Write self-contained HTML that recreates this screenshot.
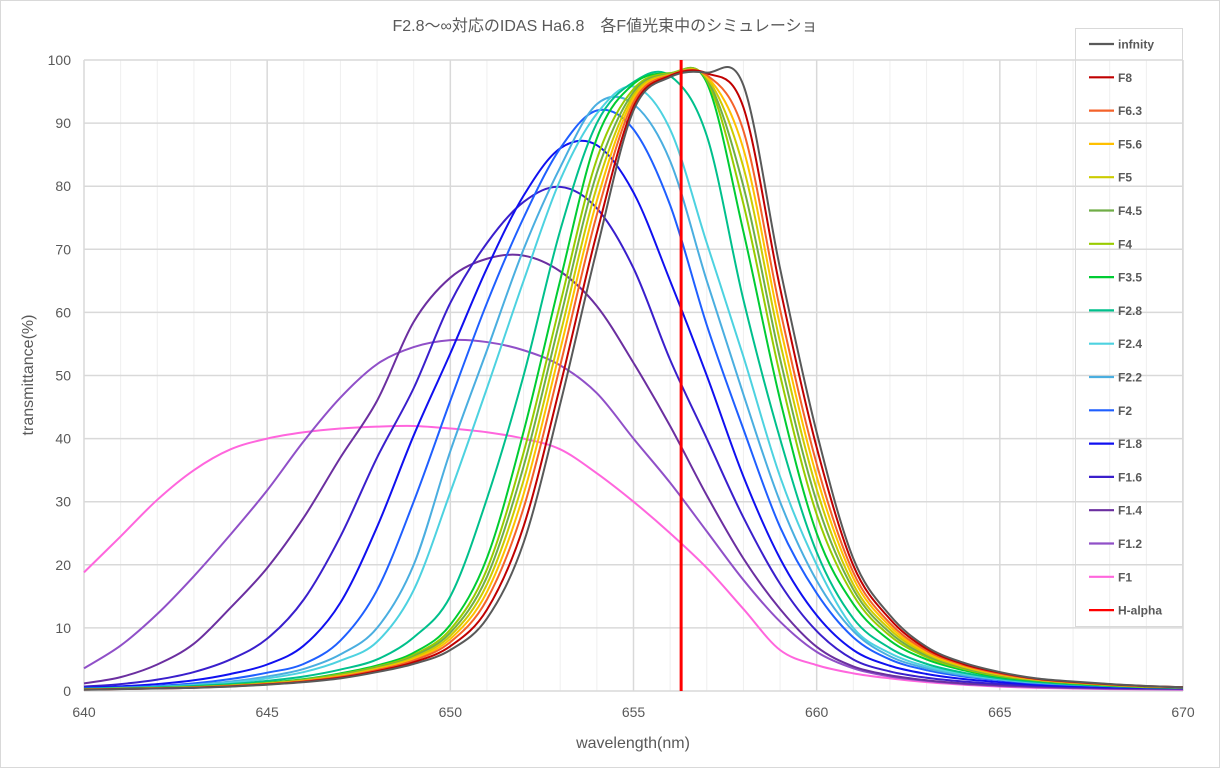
<!DOCTYPE html>
<html><head><meta charset="utf-8"><style>
html,body{margin:0;padding:0;background:#fff;}
svg{display:block;font-family:"Liberation Sans","Noto Sans CJK JP",sans-serif;}
</style></head><body>
<svg id="chart" width="1220" height="768" viewBox="0 0 1220 768" xmlns="http://www.w3.org/2000/svg">
<rect x="0.5" y="0.5" width="1219" height="767" fill="#fff" stroke="#d9d9d9"/>
<text x="605" y="31" text-anchor="middle" font-size="16" fill="#595959">F2.8～∞対応のIDAS Ha6.8　各F値光束中のシミュレーショ</text>
<g id="grid"></g>
<g id="axes"></g>
<g id="series"></g>
<g id="legend"></g>
<text x="633" y="748" text-anchor="middle" font-size="16" fill="#595959">wavelength(nm)</text>
<text x="0" y="0" transform="translate(33,375) rotate(-90)" text-anchor="middle" font-size="16" fill="#595959">transmittance(%)</text>
</svg>
<script>
const wavelengths = [640,641,642,643,644,645,646,647,648,649,650,651,652,653,654,655,656,657,658,659,660,661,662,663,664,665,666,667,668,669,670];
const seriesNames = ["infnity","F8","F6.3","F5.6","F5","F4.5","F4","F3.5","F2.8","F2.4","F2.2","F2","F1.8","F1.6","F1.4","F1.2","F1","H-alpha"];
const seriesColors = ["#595959","#c00000","#f4622a","#ffc000","#cccc00","#70ad47","#99cc00","#00cc33","#00c08c","#4dd2e0","#4aaee0","#1f5fff","#1010f0","#3a1fcc","#6b2fa0","#9050c8","#ff66dd","#ff0000"];
const sInf  = [0.2,0.3,0.4,0.5,0.7,1.0,1.4,2.0,3.0,4.3,6.5,11.5,23.5,45.5,70,92,97.3,98,96,67,41,21,12,7,4.5,3,2,1.5,1.1,0.8,0.6];
const sF8   = [0.21,0.31,0.41,0.52,0.74,1.05,1.47,2.12,3.16,4.56,7.1,12.9,26.1,48.4,72.6,92.6,97.5,97.9,92.5,63.9,38.6,19.9,11.4,6.7,4.3,2.9,1.94,1.45,1.06,0.78,0.6];
const sF63  = [0.23,0.33,0.43,0.55,0.78,1.1,1.55,2.25,3.33,4.85,7.75,14.5,29,51.6,75.5,93.3,97.6,97.6,88.8,60.5,36,18.8,10.75,6.4,4.13,2.75,1.88,1.4,1.03,0.75,0.6];
const sF56  = [0.24,0.34,0.44,0.57,0.81,1.14,1.61,2.35,3.46,5.07,8.25,15.7,31.2,54.1,77.7,93.9,97.6,97.4,85.9,57.9,34,17.9,10.25,6.13,3.98,2.65,1.83,1.36,1.0,0.73,0.6];
const sF5   = [0.25,0.35,0.45,0.59,0.84,1.18,1.67,2.45,3.59,5.29,8.75,16.9,33.4,56.5,79.9,94.4,97.7,97.2,83,55.3,32,16.9,9.75,5.88,3.83,2.55,1.78,1.32,0.97,0.71,0.6];
const sF45  = [0.26,0.36,0.46,0.61,0.87,1.22,1.73,2.55,3.72,5.51,9.25,18.1,35.6,59,82.1,94.9,97.8,97,80,52.7,30,16.1,9.25,5.63,3.68,2.45,1.73,1.28,0.94,0.69,0.6];
const sF4   = [0.27,0.37,0.47,0.63,0.9,1.26,1.79,2.65,3.85,5.73,9.75,19.3,37.8,61.4,84.3,95.4,97.9,96.8,77.2,50.1,28,15.2,8.75,5.38,3.53,2.35,1.68,1.24,0.91,0.67,0.58];
const sF35  = [0.28,0.38,0.48,0.66,0.94,1.32,1.88,2.8,4.04,6.06,10.5,21.1,41.1,65.1,87.6,96.2,97.9,96.4,72.8,46.2,25,13.8,8,5,3.3,2.2,1.6,1.18,0.86,0.64,0.55];
const sF28  = [0.35,0.45,0.6,0.8,1.1,1.6,2.3,3.4,5,8.5,15,30.5,50,73,90,96.5,97.5,88,62,40,22,11.5,6.8,4.3,2.9,2,1.45,1.05,0.8,0.6,0.5];
const sF24  = [0.3,0.45,0.65,0.9,1.3,2,3,4.8,7.8,16,31.5,48,65,81,91.5,95.8,89,71,53,34,20,10,6,3.9,2.7,1.9,1.4,1.05,0.8,0.65,0.55];
const sF22  = [0.35,0.5,0.7,1,1.5,2.3,3.5,5.8,10,20,38,54,70,83,93,93,84,65,47,30,17.5,9.5,5.5,3.6,2.5,1.8,1.3,1,0.8,0.65,0.55];
const sF2   = [0.4,0.55,0.8,1.2,1.9,2.9,4.3,8,16,30,46,61.5,75,86,92,89,77,58,41.5,26,15.5,8.5,5,3.3,2.3,1.7,1.2,0.95,0.75,0.6,0.55];
const sF18  = [0.5,0.75,1.1,1.7,2.7,4.2,7.2,14,26,40.5,53.5,67,78.5,86,86.5,79,65,50,34,21,12,6.5,4,2.7,1.9,1.4,1.0,0.8,0.65,0.55,0.5];
const sF16  = [0.7,1.1,1.8,3,5,8.3,14.5,24.5,37,48,61.5,71,77.5,79.9,76.5,67,52.5,40,27.5,17,9.5,5,3.1,2.1,1.5,1.1,0.85,0.65,0.5,0.45,0.4];
const sF14  = [1.2,2.2,4.2,7.5,13.2,19.5,27.5,37,46,58.5,65.5,68.5,69,66.5,61,52,42,31,21,13,7,3.9,2.5,1.7,1.2,0.9,0.7,0.55,0.45,0.4,0.35];
const sF12  = [3.6,7.2,12.2,18.2,24.8,31.8,39.6,46.5,51.8,54.5,55.6,55.3,54,51.6,47.2,40,33,25.3,17.6,11,6.2,3.6,2.3,1.6,1.1,0.8,0.6,0.45,0.35,0.3,0.25];
const sF1   = [18.8,24.5,30.3,35,38.3,40,41,41.6,41.9,42,41.6,41,40,38.3,34.5,30,25,19.5,13,6.5,4.1,2.8,2,1.4,1,0.7,0.5,0.4,0.3,0.25,0.2];
const halphaX = [656.3,656.3];
const halphaY = [0,100];
const xTicks = [640,645,650,655,660,665,670];
const yTicks = [0,10,20,30,40,50,60,70,80,90,100];
const xMinor = [641,642,643,644,646,647,648,649,651,652,653,654,656,657,658,659,661,662,663,664,666,667,668,669];

const allSeries = [sInf,sF8,sF63,sF56,sF5,sF45,sF4,sF35,sF28,sF24,sF22,sF2,sF18,sF16,sF14,sF12,sF1];

const X0=84,X1=1183,Y0=691,Y1=60;
function xs(v){return X0+(v-640)/30*(X1-X0);}
function ys(v){return Y0-v/100*(Y0-Y1);}
const NS="http://www.w3.org/2000/svg";
function mk(tag,attrs,parent){const e=document.createElementNS(NS,tag);for(const k in attrs)e.setAttribute(k,attrs[k]);parent.appendChild(e);return e;}

const grid=document.getElementById('grid');
xMinor.forEach(v=>{const l=mk('line',{x1:xs(v),x2:xs(v),y1:Y1,y2:Y0,stroke:'#efefef','stroke-width':1},grid);

});
yTicks.forEach(v=>{const l=mk('line',{x1:X0,x2:X1,y1:ys(v),y2:ys(v),stroke:'#d9d9d9','stroke-width':1.5},grid);

});
xTicks.forEach(v=>{const l=mk('line',{x1:xs(v),x2:xs(v),y1:Y1,y2:Y0,stroke:'#d9d9d9','stroke-width':1.5},grid);

});

const axes=document.getElementById('axes');
yTicks.forEach(v=>{const t=mk('text',{x:71,y:ys(v)+5,'text-anchor':'end','font-size':14,fill:'#595959'},axes);t.textContent=v;

});
xTicks.forEach(v=>{const t=mk('text',{x:xs(v),y:717,'text-anchor':'middle','font-size':14,fill:'#595959'},axes);t.textContent=v;

});

function pathFor(xv,yv){
  const p=xv.map((x,i)=>[xs(x),ys(yv[i])]);
  let d='M'+p[0][0].toFixed(2)+','+p[0][1].toFixed(2);
  for(let i=0;i<p.length-1;i++){
    const a=p[Math.max(0,i-1)],b=p[i],c=p[i+1],e=p[Math.min(p.length-1,i+2)];
    const c1=[b[0]+(c[0]-a[0])/6,b[1]+(c[1]-a[1])/6];
    const c2=[c[0]-(e[0]-b[0])/6,c[1]-(e[1]-b[1])/6];
    d+='C'+c1[0].toFixed(2)+','+c1[1].toFixed(2)+' '+c2[0].toFixed(2)+','+c2[1].toFixed(2)+' '+c[0].toFixed(2)+','+c[1].toFixed(2);
  }
  return d;
}
const sg=document.getElementById('series');
for(let i=allSeries.length-1;i>=0;i--){
  const el=mk('path',{d:pathFor(wavelengths,allSeries[i]),fill:'none',stroke:seriesColors[i],'stroke-width':2},sg);
  
  
}
const ha=mk('line',{x1:xs(halphaX[0]),x2:xs(halphaX[1]),y1:ys(halphaY[0]),y2:ys(halphaY[1]),stroke:'#ff0000','stroke-width':3},sg);



const lg=document.getElementById('legend');
const box=mk('rect',{x:1075.5,y:28.5,width:107,height:598,fill:'none',stroke:'#d9d9d9','stroke-width':1},lg);


seriesNames.forEach((n,i)=>{
  const y=44+i*33.3;
  const g=mk('g',{},lg);
  
  
  mk('line',{x1:1089,x2:1114,y1:y,y2:y,stroke:seriesColors[i],'stroke-width':2.2},g);
  const t=mk('text',{x:1118,y:y+4.5,'font-size':12,'font-weight':'bold',fill:'#595959'},g);
  t.textContent=n;
});
</script>
</body></html>
